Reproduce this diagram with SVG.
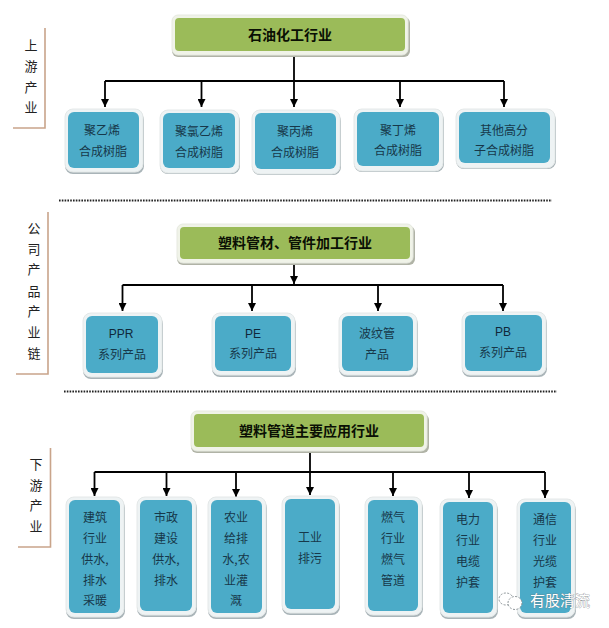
<svg xmlns="http://www.w3.org/2000/svg" width="609" height="628" viewBox="0 0 609 628">
<style>
text{font-family:"Noto Sans CJK SC","Liberation Sans",sans-serif;text-anchor:middle}
.bevel{fill:#eef3f4;stroke:#e4e8e8;stroke-width:1}
.shadow{fill:#a9b4b8}
.blue{fill:#4babc8}
.green{fill:#9bbb59}
.gbevel{fill:#f0f3e8;stroke:#e6e9e0;stroke-width:1}
.gshadow{fill:#b0b3a6}
.t{font-size:12px;fill:#17384a}
.h{font-size:14px;font-weight:700;fill:#0a0f04}
.e{font-size:12px;fill:#10283a;font-family:"Liberation Sans",sans-serif}
.s{font-size:13px;fill:#222}
.line{fill:none;stroke:#000;stroke-width:1.8}
.dot{fill:none;stroke:#222;stroke-width:1.8;stroke-dasharray:1.6 1.2}
.side{fill:none;stroke:#c9a48a;stroke-width:1.6}
.wm{font-size:15px;fill:#fff;stroke:#6d7478;stroke-width:.5;paint-order:stroke}
</style>
<defs>
<marker id="arrow" markerUnits="userSpaceOnUse" markerWidth="9" markerHeight="8" refX="8" refY="4" orient="auto"><path d="M0 0L8 4L0 8Z" fill="#000"/></marker>
</defs>
<rect width="609" height="628" fill="#fff"/>
<g id="connectors">
<path class="line" d="M294 57V107" marker-end="url(#arrow)"/>
<path class="line" d="M105 81H504"/>
<path class="line" d="M105 81V107" marker-end="url(#arrow)"/>
<path class="line" d="M201.500 81V107" marker-end="url(#arrow)"/>
<path class="line" d="M400 81V107" marker-end="url(#arrow)"/>
<path class="line" d="M504 81V107" marker-end="url(#arrow)"/>
<path class="line" d="M294 264V284" marker-end="url(#arrow)"/>
<path class="line" d="M122.500 285H503"/>
<path class="line" d="M122.500 285V311" marker-end="url(#arrow)"/>
<path class="line" d="M252 285V311" marker-end="url(#arrow)"/>
<path class="line" d="M378 285V311" marker-end="url(#arrow)"/>
<path class="line" d="M503 285V311" marker-end="url(#arrow)"/>
<path class="line" d="M310 453V495" marker-end="url(#arrow)"/>
<path class="line" d="M94.500 472H545"/>
<path class="line" d="M94.500 472V496" marker-end="url(#arrow)"/>
<path class="line" d="M166.500 472V496" marker-end="url(#arrow)"/>
<path class="line" d="M236 472V497" marker-end="url(#arrow)"/>
<path class="line" d="M393 472V496" marker-end="url(#arrow)"/>
<path class="line" d="M469 472V498" marker-end="url(#arrow)"/>
<path class="line" d="M545 472V498" marker-end="url(#arrow)"/>
</g>
<g id="dividers">
<path class="dot" d="M59 200.500H552"/>
<path class="dot" d="M64 391.500H557"/>
</g>
<g id="side-upstream"><path class="side" d="M45 28V128H13"/>
<text class="s" x="31" y="50">上</text><text class="s" x="31" y="71">游</text><text class="s" x="31" y="92">产</text><text class="s" x="31" y="112">业</text></g>
<g id="side-company"><path class="side" d="M48 212V374H16"/>
<text class="s" x="34" y="233">公</text><text class="s" x="34" y="254">司</text><text class="s" x="34" y="274">产</text><text class="s" x="34" y="296">品</text><text class="s" x="34" y="316">产</text><text class="s" x="34" y="337">业</text><text class="s" x="34" y="358">链</text></g>
<g id="side-downstream"><path class="side" d="M50.500 448V547H18"/>
<text class="s" x="36" y="469">下</text><text class="s" x="36" y="490">游</text><text class="s" x="36" y="510">产</text><text class="s" x="36" y="531">业</text></g>

<g id="top-title"><rect class="gshadow" x="172" y="17" width="238" height="40" rx="6"/><rect class="gbevel" x="172" y="15" width="236" height="40" rx="6"/><rect class="green" x="175" y="18" width="230" height="33" rx="4"/><text class="h" x="290" y="40">石油化工行业</text></g>
<g id="n1"><rect class="shadow" x="65" y="112" width="79" height="62" rx="8"/><rect class="bevel" x="65" y="109" width="78" height="63" rx="8"/><rect class="blue" x="68" y="112" width="71" height="56" rx="6"/><text class="t" x="102" y="134.500">聚乙烯</text><text class="t" x="103" y="155.500">合成树脂</text></g>
<g id="n2"><rect class="shadow" x="160" y="113" width="80" height="61" rx="8"/><rect class="bevel" x="160" y="110" width="79" height="63" rx="8"/><rect class="blue" x="163" y="113" width="72" height="55" rx="6"/><text class="t" x="199" y="135.500">聚氯乙烯</text><text class="t" x="199" y="156.500">合成树脂</text></g>
<g id="n3"><rect class="shadow" x="252" y="113" width="89" height="62" rx="8"/><rect class="bevel" x="252" y="110" width="88" height="64" rx="8"/><rect class="blue" x="255" y="113" width="81" height="56" rx="6"/><text class="t" x="295" y="135.500">聚丙烯</text><text class="t" x="295" y="156.500">合成树脂</text></g>
<g id="n4"><rect class="shadow" x="354" y="112" width="90" height="60" rx="8"/><rect class="bevel" x="354" y="109" width="89" height="62" rx="8"/><rect class="blue" x="357" y="112" width="82" height="54" rx="6"/><text class="t" x="398" y="134.500">聚丁烯</text><text class="t" x="398" y="155">合成树脂</text></g>
<g id="n5"><rect class="shadow" x="456" y="112" width="100" height="57" rx="8"/><rect class="bevel" x="456" y="109" width="99" height="59" rx="8"/><rect class="blue" x="459" y="112" width="91" height="51" rx="6"/><text class="t" x="504" y="134.500">其他高分</text><text class="t" x="504" y="155">子合成树脂</text></g>

<g id="mid-title"><rect class="gshadow" x="177" y="226" width="238" height="39" rx="6"/><rect class="gbevel" x="177" y="224" width="236" height="39" rx="6"/><rect class="green" x="180" y="227" width="230" height="32" rx="4"/><text class="h" x="295" y="248">塑料管材、管件加工行业</text></g>
<g id="p1"><rect class="shadow" x="83" y="316" width="80" height="63" rx="8"/><rect class="bevel" x="83" y="313" width="79" height="64" rx="8"/><rect class="blue" x="86" y="316" width="72" height="57" rx="6"/><text class="e" x="121" y="338">PPR</text><text class="t" x="122" y="359">系列产品</text></g>
<g id="p2"><rect class="shadow" x="212" y="316" width="84" height="61" rx="8"/><rect class="bevel" x="212" y="313" width="83" height="62" rx="8"/><rect class="blue" x="215" y="316" width="76" height="55" rx="6"/><text class="e" x="253" y="338">PE</text><text class="t" x="253" y="358">系列产品</text></g>
<g id="p3"><rect class="shadow" x="339" y="316" width="79" height="61" rx="8"/><rect class="bevel" x="339" y="313" width="78" height="62" rx="8"/><rect class="blue" x="342" y="316" width="71" height="55" rx="6"/><text class="t" x="377" y="337.500">波纹管</text><text class="t" x="377" y="358.500">产品</text></g>
<g id="p4"><rect class="shadow" x="462" y="315" width="85" height="62" rx="8"/><rect class="bevel" x="462" y="312" width="84" height="63" rx="8"/><rect class="blue" x="465" y="315" width="77" height="56" rx="6"/><text class="e" x="503" y="336">PB</text><text class="t" x="503" y="357">系列产品</text></g>

<g id="bottom-title"><rect class="gshadow" x="191" y="414" width="238" height="39" rx="6"/><rect class="gbevel" x="191" y="411" width="236" height="40" rx="6"/><rect class="green" x="194" y="414" width="230" height="33" rx="4"/><text class="h" x="309" y="436">塑料管道主要应用行业</text></g>
<g id="d1"><rect class="shadow" x="66" y="500" width="59" height="119" rx="8"/><rect class="bevel" x="66" y="497" width="58" height="120" rx="8"/><rect class="blue" x="69" y="500" width="51" height="113" rx="6"/><text class="t" x="95" y="521.500">建筑</text><text class="t" x="95" y="542.500">行业</text><text class="t" x="95" y="563.500">供水,</text><text class="t" x="95" y="584.500">排水</text><text class="t" x="95" y="604.500">采暖</text></g>
<g id="d2"><rect class="shadow" x="137" y="500" width="60" height="117" rx="8"/><rect class="bevel" x="137" y="497" width="59" height="118" rx="8"/><rect class="blue" x="140" y="500" width="52" height="111" rx="6"/><text class="t" x="166" y="521.500">市政</text><text class="t" x="166" y="542.500">建设</text><text class="t" x="166" y="563.500">供水,</text><text class="t" x="166" y="584.500">排水</text></g>
<g id="d3"><rect class="shadow" x="208" y="500" width="59" height="119" rx="8"/><rect class="bevel" x="208" y="497" width="58" height="120" rx="8"/><rect class="blue" x="211" y="500" width="51" height="113" rx="6"/><text class="t" x="236" y="521.500">农业</text><text class="t" x="236" y="542.500">给排</text><text class="t" x="236" y="563.500">水,农</text><text class="t" x="236" y="584.500">业灌</text><text class="t" x="236" y="604.500">溉</text></g>
<g id="d4"><rect class="shadow" x="282" y="499" width="58" height="116" rx="8"/><rect class="bevel" x="282" y="496" width="57" height="117" rx="8"/><rect class="blue" x="285" y="499" width="50" height="110" rx="6"/><text class="t" x="310" y="541.500">工业</text><text class="t" x="310" y="562.500">排污</text></g>
<g id="d5"><rect class="shadow" x="365" y="500" width="58" height="117" rx="8"/><rect class="bevel" x="365" y="497" width="57" height="118" rx="8"/><rect class="blue" x="368" y="500" width="50" height="111" rx="6"/><text class="t" x="393" y="521.500">燃气</text><text class="t" x="393" y="542.500">行业</text><text class="t" x="393" y="563.500">燃气</text><text class="t" x="393" y="584.500">管道</text></g>
<g id="d6"><rect class="shadow" x="440" y="502" width="58" height="117" rx="8"/><rect class="bevel" x="440" y="499" width="57" height="118" rx="8"/><rect class="blue" x="443" y="502" width="50" height="111" rx="6"/><text class="t" x="468" y="523.500">电力</text><text class="t" x="468" y="544.500">行业</text><text class="t" x="468" y="565.500">电缆</text><text class="t" x="468" y="586.500">护套</text></g>
<g id="d7"><rect class="shadow" x="517" y="502" width="59" height="117" rx="8"/><rect class="bevel" x="517" y="499" width="58" height="118" rx="8"/><rect class="blue" x="520" y="502" width="51" height="111" rx="6"/><text class="t" x="545" y="523.500">通信</text><text class="t" x="545" y="544.500">行业</text><text class="t" x="545" y="565.500">光缆</text><text class="t" x="545" y="586.500">护套</text></g>
<g id="watermark">
<ellipse cx="506" cy="599" rx="7" ry="6" fill="#fff" stroke="#8a9296" stroke-dasharray="2 1.500"/>
<ellipse cx="515" cy="603" rx="7" ry="6.500" fill="#fff" stroke="#8a9296" stroke-dasharray="2 1.500"/>
<text class="wm" x="560" y="606">有股清流</text>
</g>
</svg>
